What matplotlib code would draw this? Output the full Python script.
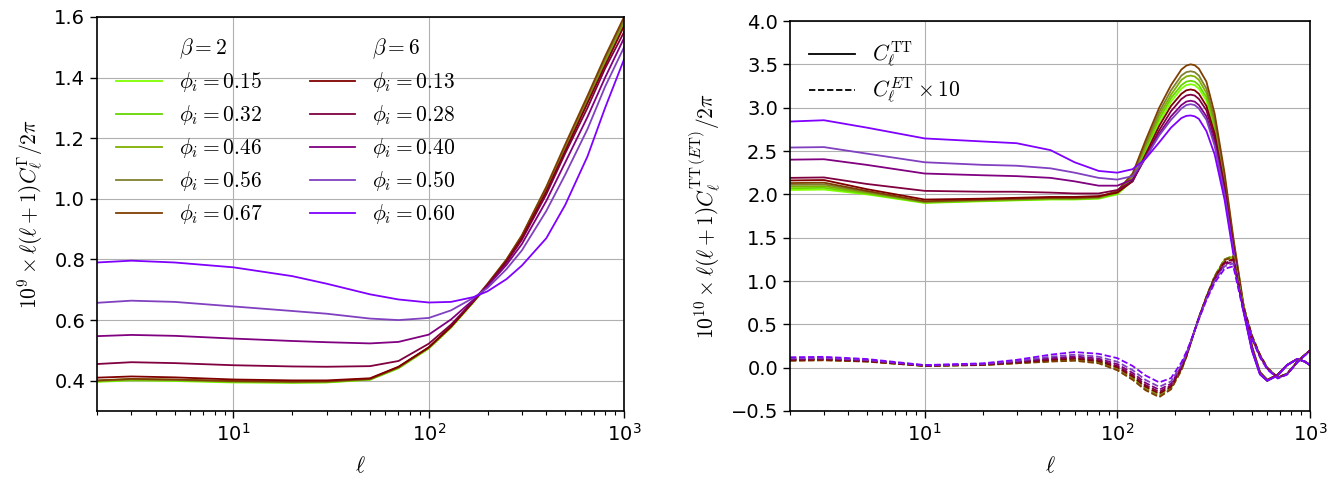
import matplotlib
matplotlib.use("Agg")
import matplotlib.pyplot as plt
from matplotlib.font_manager import FontProperties
from matplotlib.lines import Line2D

# ---------------- data ----------------
phi_b2 = ["0.15", "0.32", "0.46", "0.56", "0.67"]
phi_b6 = ["0.13", "0.28", "0.40", "0.50", "0.60"]
col_b2 = ["#80ff00", "#66d600", "#80b000", "#808030", "#7f3f00"]
col_b6 = ["#800000", "#800040", "#800080", "#8040c0", "#8000ff"]

ell_left = [2, 3, 5, 10, 20, 30, 50, 70, 100, 130, 170, 200, 250, 300, 400, 500, 650, 800, 1000]
gam_b2 = [
    [0.396, 0.401, 0.399, 0.394, 0.393, 0.394, 0.403, 0.441, 0.506, 0.575, 0.660, 0.713, 0.793, 0.870, 1.025, 1.160, 1.320, 1.445, 1.575],
    [0.398, 0.403, 0.401, 0.396, 0.394, 0.395, 0.404, 0.442, 0.507, 0.576, 0.661, 0.715, 0.795, 0.873, 1.028, 1.164, 1.324, 1.450, 1.580],
    [0.399, 0.404, 0.402, 0.397, 0.395, 0.396, 0.405, 0.443, 0.508, 0.577, 0.662, 0.716, 0.797, 0.876, 1.032, 1.168, 1.328, 1.455, 1.585],
    [0.400, 0.405, 0.403, 0.398, 0.396, 0.397, 0.405, 0.444, 0.509, 0.578, 0.663, 0.718, 0.799, 0.878, 1.036, 1.172, 1.333, 1.462, 1.590],
    [0.401, 0.406, 0.404, 0.399, 0.397, 0.398, 0.406, 0.445, 0.510, 0.580, 0.665, 0.720, 0.800, 0.880, 1.040, 1.180, 1.340, 1.470, 1.600],
]
gam_b6 = [
    [0.410, 0.414, 0.411, 0.404, 0.401, 0.401, 0.408, 0.446, 0.510, 0.578, 0.662, 0.716, 0.794, 0.871, 1.024, 1.158, 1.316, 1.440, 1.570],
    [0.455, 0.461, 0.458, 0.451, 0.447, 0.446, 0.448, 0.465, 0.522, 0.585, 0.664, 0.714, 0.790, 0.865, 1.015, 1.150, 1.300, 1.430, 1.550],
    [0.547, 0.551, 0.548, 0.539, 0.531, 0.527, 0.523, 0.528, 0.552, 0.602, 0.668, 0.712, 0.782, 0.851, 0.993, 1.120, 1.270, 1.400, 1.530],
    [0.657, 0.664, 0.660, 0.645, 0.630, 0.621, 0.605, 0.600, 0.607, 0.632, 0.674, 0.706, 0.768, 0.830, 0.960, 1.080, 1.230, 1.370, 1.500],
    [0.790, 0.796, 0.790, 0.774, 0.745, 0.720, 0.685, 0.668, 0.658, 0.660, 0.676, 0.695, 0.735, 0.780, 0.870, 0.980, 1.140, 1.300, 1.460],
]

ell_right = [2, 3, 5, 10, 20, 30, 45, 60, 80, 100, 120, 140, 165, 190, 215, 228, 240, 252, 265, 290,
             320, 360, 400, 450, 500, 550, 600, 680, 760, 860, 940, 1000]
tt_b2 = [
    [2.05, 2.055, 2.00, 1.90, 1.92, 1.93, 1.94, 1.94, 1.95, 2.00, 2.16, 2.49, 2.83, 3.07, 3.22, 3.26, 3.27, 3.26, 3.22, 3.08, 2.75, 2.12, 1.42, 0.71, 0.22, -0.06, -0.15, -0.08, 0.03, 0.10, 0.07, 0.03],
    [2.07, 2.075, 2.01, 1.905, 1.925, 1.935, 1.945, 1.945, 1.955, 2.01, 2.18, 2.52, 2.87, 3.11, 3.26, 3.30, 3.31, 3.30, 3.26, 3.12, 2.78, 2.14, 1.43, 0.72, 0.23, -0.06, -0.15, -0.08, 0.03, 0.10, 0.07, 0.03],
    [2.09, 2.095, 2.02, 1.91, 1.93, 1.94, 1.95, 1.95, 1.96, 2.02, 2.20, 2.55, 2.91, 3.15, 3.32, 3.36, 3.37, 3.36, 3.32, 3.17, 2.82, 2.17, 1.45, 0.73, 0.23, -0.06, -0.14, -0.08, 0.03, 0.10, 0.07, 0.03],
    [2.11, 2.115, 2.03, 1.915, 1.935, 1.945, 1.955, 1.955, 1.965, 2.03, 2.22, 2.58, 2.95, 3.20, 3.37, 3.41, 3.42, 3.41, 3.37, 3.22, 2.86, 2.20, 1.47, 0.74, 0.24, -0.05, -0.14, -0.08, 0.03, 0.10, 0.07, 0.03],
    [2.13, 2.135, 2.04, 1.92, 1.94, 1.95, 1.96, 1.96, 1.97, 2.04, 2.24, 2.62, 3.00, 3.26, 3.44, 3.485, 3.50, 3.49, 3.45, 3.30, 2.93, 2.25, 1.50, 0.75, 0.25, -0.05, -0.14, -0.08, 0.03, 0.10, 0.07, 0.03],
]
tt_b6 = [
    [2.16, 2.165, 2.06, 1.94, 1.95, 1.96, 1.97, 1.97, 1.98, 2.02, 2.15, 2.46, 2.79, 3.02, 3.16, 3.20, 3.21, 3.20, 3.16, 3.02, 2.70, 2.09, 1.40, 0.70, 0.22, -0.07, -0.15, -0.08, 0.03, 0.10, 0.07, 0.03],
    [2.19, 2.195, 2.12, 2.04, 2.03, 2.03, 2.02, 2.01, 2.01, 2.05, 2.15, 2.43, 2.74, 2.96, 3.10, 3.14, 3.15, 3.14, 3.10, 2.97, 2.65, 2.06, 1.38, 0.69, 0.21, -0.07, -0.15, -0.08, 0.03, 0.10, 0.07, 0.03],
    [2.40, 2.405, 2.34, 2.24, 2.22, 2.21, 2.19, 2.15, 2.10, 2.10, 2.17, 2.42, 2.70, 2.90, 3.03, 3.07, 3.08, 3.07, 3.03, 2.90, 2.59, 2.02, 1.36, 0.68, 0.21, -0.07, -0.15, -0.09, 0.03, 0.10, 0.07, 0.03],
    [2.54, 2.545, 2.47, 2.37, 2.34, 2.33, 2.30, 2.25, 2.19, 2.17, 2.21, 2.42, 2.68, 2.86, 2.99, 3.03, 3.04, 3.03, 2.99, 2.86, 2.56, 2.00, 1.35, 0.68, 0.20, -0.07, -0.15, -0.09, 0.03, 0.10, 0.07, 0.03],
    [2.84, 2.855, 2.77, 2.645, 2.61, 2.59, 2.51, 2.37, 2.27, 2.25, 2.29, 2.41, 2.60, 2.77, 2.88, 2.905, 2.91, 2.90, 2.87, 2.73, 2.46, 1.94, 1.31, 0.66, 0.19, -0.08, -0.15, -0.09, 0.03, 0.10, 0.07, 0.03],
]
et_b2 = [
    [0.09, 0.095, 0.077, 0.022, 0.035, 0.06, 0.089, 0.104, 0.076, 0.004, -0.102, -0.219, -0.299, -0.219, -0.008, 0.13, 0.285, 0.43, 0.575, 0.81, 1.05, 1.24, 1.28, 0.71, 0.36, 0.14, -0.005, -0.115, -0.072, 0.068, 0.148, 0.198],
    [0.087, 0.092, 0.075, 0.022, 0.034, 0.057, 0.084, 0.098, 0.07, -0.005, -0.111, -0.229, -0.309, -0.227, -0.014, 0.13, 0.284, 0.43, 0.576, 0.813, 1.05, 1.245, 1.285, 0.715, 0.36, 0.14, -0.004, -0.115, -0.072, 0.068, 0.148, 0.198],
    [0.085, 0.09, 0.074, 0.021, 0.032, 0.055, 0.08, 0.092, 0.063, -0.013, -0.121, -0.24, -0.32, -0.234, -0.019, 0.13, 0.282, 0.43, 0.578, 0.815, 1.055, 1.25, 1.29, 0.72, 0.365, 0.145, -0.002, -0.115, -0.071, 0.069, 0.149, 0.199],
    [0.082, 0.087, 0.072, 0.021, 0.031, 0.052, 0.075, 0.086, 0.057, -0.022, -0.13, -0.25, -0.33, -0.242, -0.025, 0.13, 0.281, 0.43, 0.579, 0.818, 1.055, 1.25, 1.29, 0.72, 0.365, 0.145, -0.001, -0.113, -0.071, 0.069, 0.149, 0.199],
    [0.08, 0.085, 0.07, 0.02, 0.03, 0.05, 0.07, 0.08, 0.05, -0.03, -0.14, -0.26, -0.34, -0.25, -0.03, 0.125, 0.28, 0.43, 0.58, 0.82, 1.05, 1.24, 1.28, 0.72, 0.37, 0.15, 0.0, -0.11, -0.07, 0.07, 0.15, 0.20],
]
et_b6 = [
    [0.09, 0.095, 0.077, 0.022, 0.035, 0.06, 0.089, 0.104, 0.076, 0.004, -0.102, -0.219, -0.299, -0.219, -0.008, 0.13, 0.285, 0.43, 0.575, 0.81, 1.033, 1.216, 1.254, 0.70, 0.355, 0.14, -0.005, -0.116, -0.072, 0.068, 0.148, 0.198],
    [0.094, 0.099, 0.081, 0.024, 0.037, 0.064, 0.098, 0.115, 0.089, 0.019, -0.084, -0.20, -0.28, -0.205, 0.0, 0.14, 0.287, 0.43, 0.573, 0.806, 1.026, 1.205, 1.242, 0.695, 0.35, 0.135, -0.007, -0.117, -0.074, 0.067, 0.147, 0.197],
    [0.10, 0.105, 0.085, 0.025, 0.04, 0.07, 0.11, 0.13, 0.105, 0.04, -0.06, -0.175, -0.255, -0.185, 0.015, 0.15, 0.29, 0.43, 0.57, 0.80, 1.015, 1.19, 1.225, 0.685, 0.345, 0.13, -0.01, -0.118, -0.075, 0.065, 0.145, 0.195],
    [0.108, 0.113, 0.091, 0.027, 0.044, 0.078, 0.126, 0.15, 0.127, 0.068, -0.028, -0.141, -0.221, -0.159, 0.033, 0.16, 0.294, 0.43, 0.566, 0.792, 1.001, 1.17, 1.203, 0.675, 0.34, 0.125, -0.014, -0.12, -0.077, 0.063, 0.143, 0.193],
    [0.12, 0.125, 0.10, 0.03, 0.05, 0.09, 0.15, 0.18, 0.16, 0.11, 0.02, -0.09, -0.17, -0.12, 0.06, 0.18, 0.30, 0.43, 0.56, 0.78, 0.98, 1.14, 1.17, 0.66, 0.33, 0.12, -0.02, -0.125, -0.08, 0.06, 0.14, 0.19],
]

# ---------------- figure ----------------
W, H = 1338, 478
fig = plt.figure(figsize=(W / 100, H / 100), dpi=100)
axL = fig.add_axes([97 / W, 1 - 411 / H, (624 - 97) / W, (411 - 17) / H])
axR = fig.add_axes([790 / W, 1 - 411 / H, (1310 - 790) / W, (411 - 21) / H])

FS = 14
cmfp = FontProperties(size=15.5, math_fontfamily="cm")
lw = 1.3
dash = (0, (3.5, 1.5))

for ax in (axL, axR):
    ax.set_xscale("log")
    ax.set_xlim(2, 1000)
    ax.grid(True, which="major", color="#b0b0b0", linewidth=0.8)
    ax.set_axisbelow(True)
    ax.tick_params(axis="both", which="major", labelsize=FS, length=5, width=1)
    ax.tick_params(axis="x", which="minor", length=3, width=0.8)
    for s in ax.spines.values():
        s.set_linewidth(1.2)
    ax.set_xlabel(r"$\ell$", fontproperties=cmfp, labelpad=8)

# left panel
for ys, c, p in zip(gam_b2, col_b2, phi_b2):
    axL.plot(ell_left, ys, color=c, lw=lw, label=r"$\phi_i = %s$" % p)
for ys, c, p in zip(gam_b6, col_b6, phi_b6):
    axL.plot(ell_left, ys, color=c, lw=lw, label=r"$\phi_i = %s$" % p)
axL.set_ylim(0.3, 1.6)
axL.set_yticks([0.4, 0.6, 0.8, 1.0, 1.2, 1.4, 1.6])
axL.set_ylabel(r"$10^9 \times \ell(\ell+1)C_\ell^{\Gamma}/2\pi$", fontproperties=cmfp, labelpad=6)

h, l = axL.get_legend_handles_labels()
blank = Line2D([], [], color="none")
handles = [blank] + h[:5] + [blank] + h[5:]
labels = [r"$\beta = 2$"] + l[:5] + [r"$\beta = 6$"] + l[5:]
axL.legend(handles, labels, ncol=2, loc="upper left", frameon=False, prop=cmfp,
           handlelength=2.1, labelspacing=0.42, columnspacing=2.2,
           borderaxespad=0.5)

# right panel
for ys, c in zip(tt_b2, col_b2):
    axR.plot(ell_right, ys, color=c, lw=lw)
for ys, c in zip(tt_b6, col_b6):
    axR.plot(ell_right, ys, color=c, lw=lw)
for ys, c in zip(et_b2, col_b2):
    axR.plot(ell_right, ys, color=c, lw=lw, ls=dash)
for ys, c in zip(et_b6, col_b6):
    axR.plot(ell_right, ys, color=c, lw=lw, ls=dash)
axR.set_ylim(-0.5, 4.0)
axR.set_yticks([-0.5, 0.0, 0.5, 1.0, 1.5, 2.0, 2.5, 3.0, 3.5, 4.0])
axR.set_ylabel(r"$10^{10} \times \ell(\ell+1)C_\ell^{\mathrm{TT}\,(E\mathrm{T})}/2\pi$",
               fontproperties=cmfp, labelpad=6)
rh = [Line2D([], [], color="k", lw=lw), Line2D([], [], color="k", lw=lw, ls=dash)]
rl = [r"$C_\ell^{\mathrm{TT}}$", r"$C_\ell^{E\mathrm{T}} \times 10$"]
axR.legend(rh, rl, loc="upper left", frameon=False, prop=cmfp, handlelength=2.1,
           labelspacing=0.25, borderaxespad=0.5)

fig.savefig("out.png", dpi=100)
